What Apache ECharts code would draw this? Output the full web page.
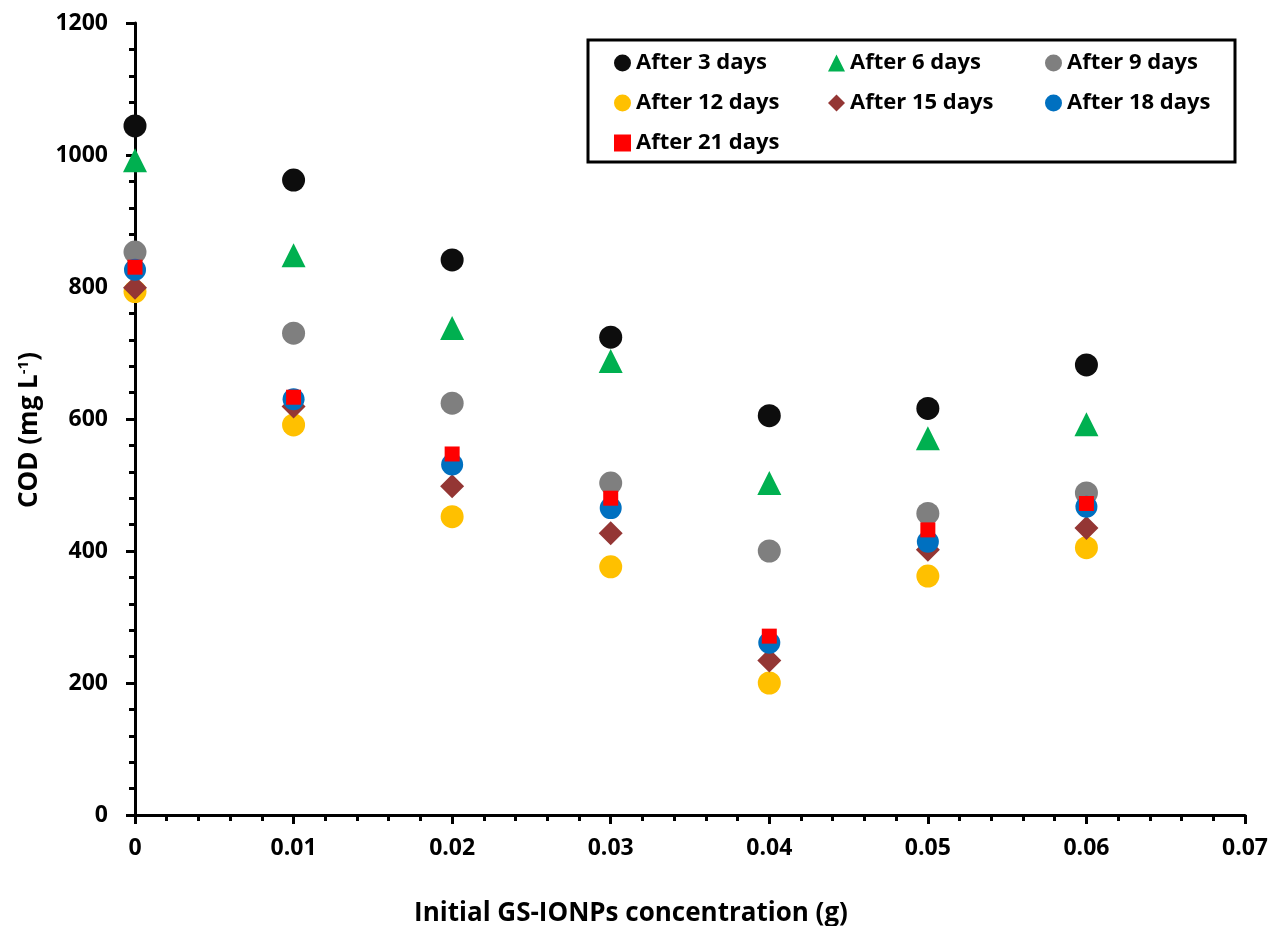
<!DOCTYPE html>
<html>
<head>
<meta charset="utf-8">
<script src="https://cdn.jsdelivr.net/npm/echarts@6/dist/echarts.min.js"></script>
<style>
html, body { margin: 0; padding: 0; background: #fff; }
#chart { width: 1269px; height: 926px; }
</style>
</head>
<body>
<div id="chart"></div>
<script>
// GS-IONPs dose (g)
var doses = [0, 0.01, 0.02, 0.03, 0.04, 0.05, 0.06];

// COD values (mg/L)
var day3  = [1044, 962, 841, 724, 605, 616, 682];
var day6  = [992, 848, 738, 688, 503, 571, 592];
var day9  = [853, 730, 624, 503, 400, 457, 488];
var day12 = [793, 591, 452, 376, 200, 362, 405];
var day15 = [799, 619, 498, 427, 234, 402, 435];
var day18 = [826, 630, 531, 465, 261, 414, 467];
var day21 = [830, 633, 547, 480, 271, 432, 472];

var yTicks = [0, 200, 400, 600, 800, 1000, 1200];

var FONT = 'Open Sans';

var chart = echarts.init(document.getElementById('chart'));

function pts(vals) {
	return doses.map(function(d, i) { return [d, vals[i]]; });
}

var seriesDef = [
	{ name: 'After 3 days',  data: day3,  symbol: 'circle',   size: 23, color: '#0d0d0d' },
	{ name: 'After 6 days',  data: day6,  symbol: 'triangle', size: 24, color: '#00b050' },
	{ name: 'After 9 days',  data: day9,  symbol: 'circle',   size: 23, color: '#7f7f7f' },
	{ name: 'After 12 days', data: day12, symbol: 'circle',   size: 23, color: '#ffc000' },
	{ name: 'After 15 days', data: day15, symbol: 'diamond',  size: 24, color: '#943634' },
	{ name: 'After 18 days', data: day18, symbol: 'circle',   size: 22, color: '#0070c0' },
	{ name: 'After 21 days', data: day21, symbol: 'rect',     size: 15, color: '#ff0000' }
];

var series = seriesDef.map(function(s) {
	return {
		name: s.name,
		type: 'scatter',
		symbol: s.symbol,
		symbolSize: s.size,
		itemStyle: { color: s.color, opacity: 1 },
		data: pts(s.data)
	};
});

var legendText = { fontFamily: FONT, fontWeight: 'bold', fontSize: 22, color: '#000' };

function col(left, names) {
	return {
		orient: 'vertical',
		left: left,
		top: 52,
		padding: 0,
		itemWidth: 17,
		itemHeight: 17,
		itemGap: 18,
		textStyle: legendText,
		data: names.map(function(n) {
			var s = seriesDef.filter(function(d) { return d.name === n; })[0];
			return { name: n, icon: s.symbol };
		})
	};
}

var option = {
	backgroundColor: '#fff',
	animation: false,
	grid: { left: 135, right: 24, top: 23, bottom: 111, containLabel: false, outerBoundsMode: 'none' },
	legend: [
		col(614, ['After 3 days', 'After 12 days', 'After 21 days']),
		col(828, ['After 6 days', 'After 15 days']),
		col(1045, ['After 9 days', 'After 18 days'])
	],
	graphic: [{
		type: 'rect',
		shape: { x: 588, y: 40, width: 647, height: 122 },
		style: { fill: 'none', stroke: '#000', lineWidth: 3 }
	}],
	xAxis: {
		type: 'value',
		min: 0,
		max: 0.07,
		interval: 0.01,
		name: 'Initial GS-IONPs concentration (g)',
		nameLocation: 'middle',
		nameGap: 86,
		nameTextStyle: { fontFamily: FONT, fontWeight: 'bold', fontSize: 26, color: '#000', padding: [0, 118, 0, 0] },
		axisLine: { lineStyle: { color: '#000', width: 3 } },
		axisTick: { inside: false, length: 9, lineStyle: { color: '#000', width: 3 } },
		minorTick: { show: true, splitNumber: 5, length: 6, lineStyle: { color: '#000', width: 3 } },
		splitLine: { show: false },
		axisLabel: {
			margin: 22,
			fontFamily: FONT, fontWeight: 'bold', fontSize: 23, color: '#000',
			formatter: function(v) { return v === 0 ? '0' : v.toFixed(2); }
		}
	},
	yAxis: {
		type: 'value',
		min: yTicks[0],
		max: yTicks[yTicks.length - 1],
		interval: 200,
		name: '{a|COD (mg L}{s|-1}{a|)}',
		nameLocation: 'middle',
		nameRotate: 90,
		nameGap: 92,
		nameTextStyle: {
			padding: [0, 22, 0, 0],
			rich: {
				a: { fontFamily: FONT, fontWeight: 'bold', fontSize: 26, color: '#000' },
				s: { fontFamily: FONT, fontWeight: 'bold', fontSize: 15, color: '#000', verticalAlign: 'top', padding: [0, 0, 12, 0] }
			}
		},
		axisLine: { show: true, lineStyle: { color: '#000', width: 3 } },
		axisTick: { show: true, inside: false, length: 9, lineStyle: { color: '#000', width: 3 } },
		minorTick: { show: true, splitNumber: 5, length: 6, lineStyle: { color: '#000', width: 3 } },
		splitLine: { show: false },
		axisLabel: {
			margin: 27,
			fontFamily: FONT, fontWeight: 'bold', fontSize: 23, color: '#000',
			formatter: function(v) { return String(v); }
		}
	},
	series: series
};

chart.setOption(option, true);
window.onresize = function() {
	chart.resize();
};
</script>
</body>
</html>
